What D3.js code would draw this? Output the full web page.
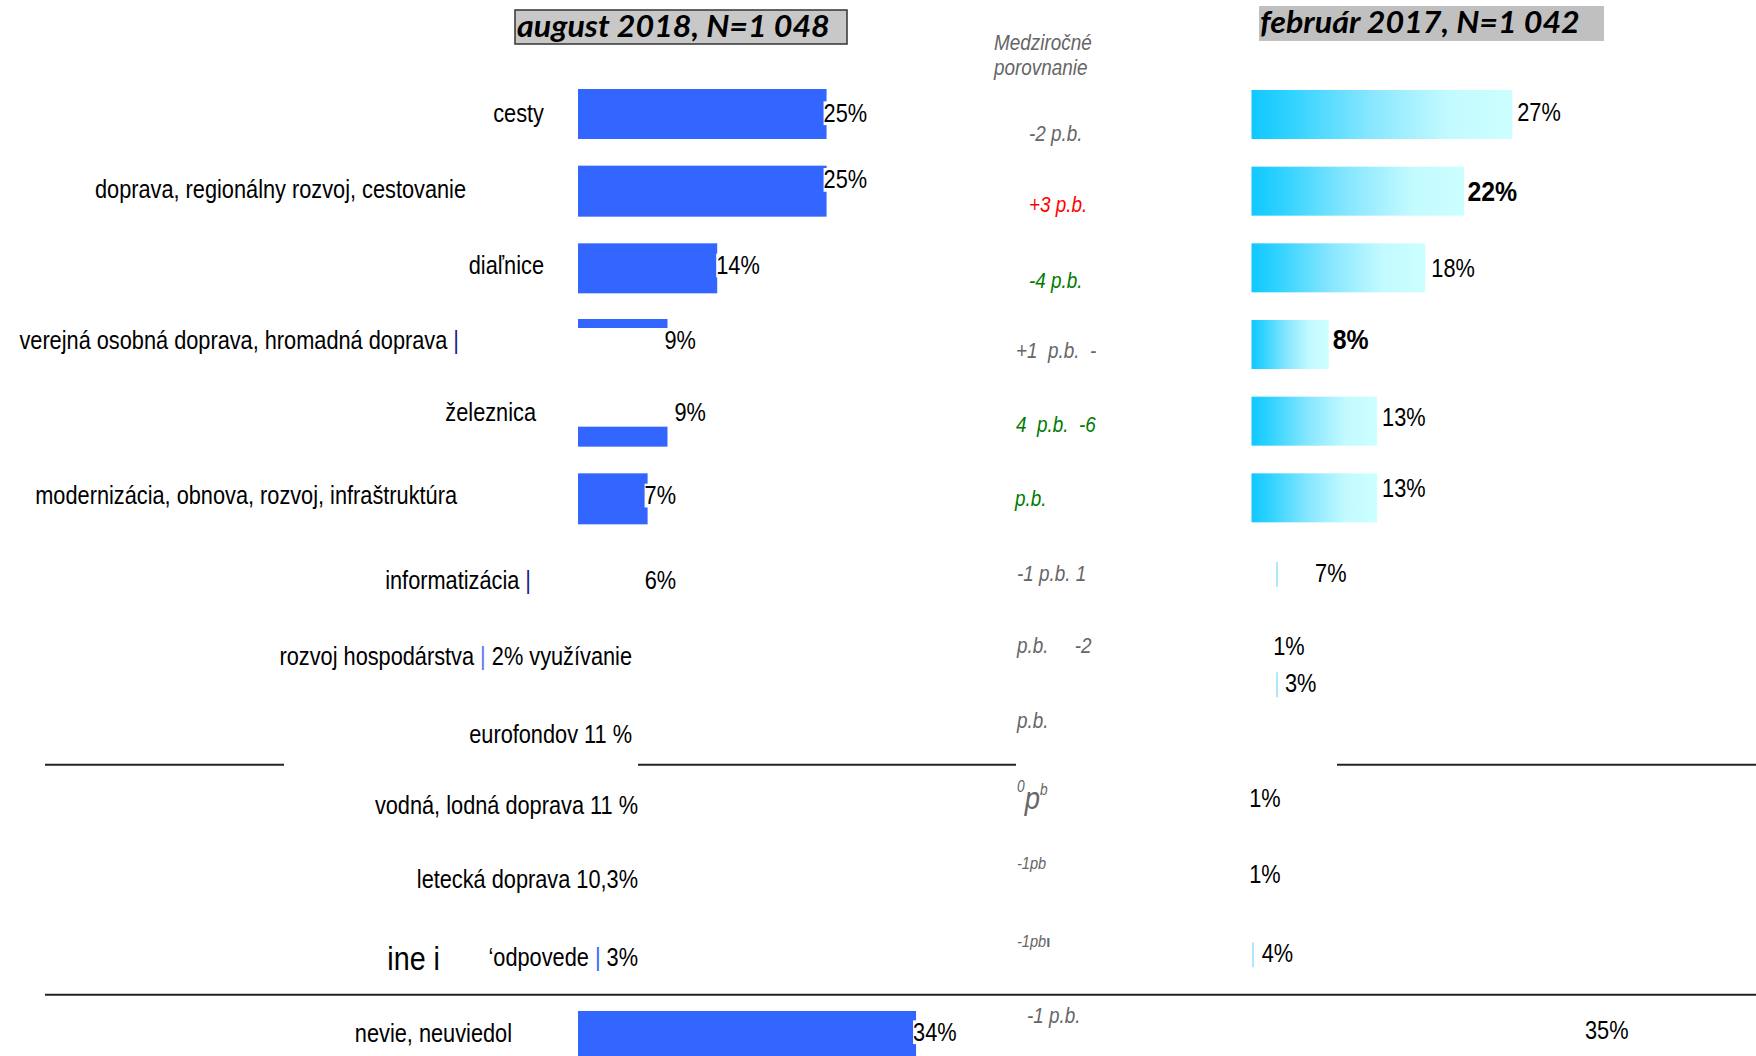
<!DOCTYPE html>
<html><head><meta charset="utf-8">
<script src="https://cdn.jsdelivr.net/npm/d3@7"></script>
<style>body{margin:0;background:#fff;overflow:hidden}</style>
</head><body>
<svg id="c" width="1756" height="1056"></svg>
<script>
// ---------- DATA ----------
const categories = ["cesty","doprava","dialnice","verejna","zeleznica","modernizacia","informatizacia","rozvoj","eurofondov","vodna","letecka","ine","nevie"];
const categoryLabels = [
  "cesty",
  "doprava, regionálny rozvoj, cestovanie",
  "diaľnice",
  "verejná osobná doprava, hromadná doprava |",
  "železnica",
  "modernizácia, obnova, rozvoj, infraštruktúra",
  "informatizácia |",
  "rozvoj hospodárstva | 2% využívanie",
  "eurofondov 11 %",
  "vodná, lodná doprava 11 %",
  "letecká doprava 10,3%",
  "‘odpovede | 3%",
  "nevie, neuviedol"
];
const augustValues   = [25, 25, 14, 9, 9, 7, 6, null, null, null, null, null, 34];
const februaryValues = [27, 22, 18, 8, 13, 13, 7, 1, 3, 1, 1, 4, 35];
const changeLabels = ["-2 p.b.", "+3 p.b.", "-4 p.b.", "+1  p.b.  -", "4  p.b.  -6", "p.b.", "-1 p.b. 1", "p.b.     -2", "p.b.", "0pb", "-1pb", "-1pb'", "-1 p.b."];
const changeKinds  = ["same", "up", "down", "same", "down", "down", "same", "same", "same", "same", "same", "same", "same"];
const titleAugust = "august 2018, N=1 048";
const titleFebruary = "február 2017, N=1 042";
const columnHeader = ["Medziročné", "porovnanie"];
const extraLabel = "ine i";

// ---------- LAYOUT ----------
const W = 1756, H = 1056;
const svg = d3.select("#c");
const FONT = "'Liberation Sans',Arial,sans-serif";
const NARROW = 0.87;
const TFONT = "Lato,'Open Sans',sans-serif";
const y = d3.scalePoint().domain(categories).range([113, 1033]);
const xL = d3.scaleLinear().domain([0, 35]).range([578, 926]);
const xR = d3.scaleLinear().domain([0, 35]).range([1251.5, 1589.5]);
const blue = "#3366ff";
const changeColor = {same: "#666666", up: "#ff0000", down: "#007a00"};

const labelAnchorX = [544, 466, 544, 459, 536, 457, 531, 632, 632, 638, 638, 638, 512];
const labelDy      = [0, 0, -1, -3, -7, -1, 7, 7, 8, 2, 0, 1, 0];
const leftBarShape = [[-24,50],[-24,51],[-23,50],[-24,9],[7,20],[-23,51],null,null,null,null,null,null,[-22,50]];
const leftValDy    = [0, -10, -1, -3, -7, -1, 7, 0, 0, 0, 0, 0, -1];
const leftValDx    = [-3, -3, -1, -3, 7, -3, 7, 0, 0, 0, 0, 0, -3];
const changeX  = [1029, 1029, 1029, 1016, 1016, 1015, 1017, 1017, 1017, 1017, 1017, 1017, 1027];
const changeDy = [20, 15, 14, 7, 5, 2, 0, -4, -6, -5, -12, -11, -18];
const rightMark = ["bar","bar","bar","bar","bar","bar","tick","none","tick","none","none","tick","none"];
const rightTickDx = [0,0,0,0,0,0,24.5,0,24.5,0,0,0.5,0];
const rightValDx = [5, 3.5, 6, 4, 5, 5, -4, 12, 4.5, -12, -12, -28.5, -4.5];
const rightValDy = [-1, 2, 2, -3, -2, -8, 0, -3, -43, -5, -5, -3, -3];
const rightBold  = [false, true, false, true, false, false, false, false, false, false, false, false, false];

// helper: horizontally condensed text anchored at (x,y)
function ntext(x, yy, sx) {
  return svg.append("g").attr("transform", `translate(${x},${yy}) scale(${sx},1)`);
}

// gradient
const defs = svg.append("defs");
const g = defs.append("linearGradient").attr("id", "cy").attr("x1", "0").attr("x2", "1").attr("y1", "0").attr("y2", "0");
[[0, "#10c8ff"], [0.15, "#30d2ff"], [0.45, "#86e6ff"], [0.75, "#c2faff"], [1, "#ccffff"]].forEach(s =>
  g.append("stop").attr("offset", s[0]).attr("stop-color", s[1]));

// titles
svg.append("rect").attr("x", 515).attr("y", 10).attr("width", 332).attr("height", 34)
  .attr("fill", "#c8c8c8").attr("stroke", "#333").attr("stroke-width", 1.5);
ntext(517, 37, 1.04).append("text").text(titleAugust)
  .attr("font-family", TFONT).attr("font-style", "italic").attr("font-weight", "bold").attr("font-size", 31).attr("fill", "#000");
svg.append("rect").attr("x", 1259).attr("y", 6).attr("width", 345).attr("height", 35).attr("fill", "#c0c0c0");
ntext(1260, 33, 1.04).append("text").text(titleFebruary)
  .attr("font-family", TFONT).attr("font-style", "italic").attr("font-weight", "bold").attr("font-size", 31).attr("fill", "#000");

// column header
columnHeader.forEach((t, i) => ntext(994, 50 + i * 25, 0.86).append("text").text(t)
  .attr("font-family", FONT).attr("font-style", "italic").attr("font-size", 22).attr("fill", "#666"));

// separators
const sep1 = (y("eurofondov") + y("vodna")) / 2;
const sep2 = (y("ine") + y("nevie")) / 2;
[[45, 284], [638, 1016], [1337, W]].forEach(s => svg.append("line").attr("x1", s[0]).attr("x2", s[1])
  .attr("y1", sep1).attr("y2", sep1).attr("stroke", "#222").attr("stroke-width", 2));
svg.append("line").attr("x1", 45).attr("x2", W).attr("y1", sep2).attr("y2", sep2).attr("stroke", "#222").attr("stroke-width", 2);

// left bars
categories.forEach((c, i) => {
  const v = augustValues[i], sh = leftBarShape[i];
  if (v == null || !sh) return;
  svg.append("rect").attr("x", xL(0)).attr("y", y(c) + sh[0]).attr("width", xL(v) - xL(0)).attr("height", sh[1]).attr("fill", blue);
});
// left value labels
categories.forEach((c, i) => {
  const v = augustValues[i]; if (v == null) return;
  const gg = ntext(xL(v) + leftValDx[i], y(c) + leftValDy[i], NARROW);
  const t = gg.append("text").attr("dy", "0.35em")
    .text(v + "%").attr("font-family", FONT).attr("font-size", 25).attr("fill", "#000");
  const b = t.node().getBBox();
  gg.insert("rect", "text").attr("x", b.x).attr("y", b.y + 2).attr("width", b.width).attr("height", b.height - 4).attr("fill", "#fff");
});

// category labels
const pipeColor = {3: "#1a1a8c", 6: "#1a1a8c", 7: "#5577ee", 11: "#3366ff"};
categories.forEach((c, i) => {
  const t = ntext(labelAnchorX[i], y(c) + labelDy[i], NARROW).append("text").attr("dy", "0.35em")
    .attr("text-anchor", "end").attr("font-family", FONT).attr("font-size", 25).attr("fill", "#000");
  const parts = categoryLabels[i].split("|");
  parts.forEach((p, k) => {
    t.append("tspan").text(p);
    if (k < parts.length - 1) t.append("tspan").text("|").attr("fill", pipeColor[i] || "#000");
  });
});
ntext(440, y("ine") + 2, NARROW).append("text").attr("dy", "0.35em").attr("text-anchor", "end")
  .attr("font-family", FONT).attr("font-size", 33).attr("fill", "#000").text(extraLabel);

// change column
categories.forEach((c, i) => {
  const t = ntext(changeX[i], y(c) + changeDy[i], 0.86).append("text").attr("dy", "0.35em")
    .attr("font-family", FONT).attr("font-style", "italic").attr("fill", changeColor[changeKinds[i]]).attr("font-size", 22)
    .attr("xml:space", "preserve");
  const s = changeLabels[i];
  if (s === "0pb") {
    t.append("tspan").text("0").attr("font-size", 16).attr("dy", "-0.4em");
    t.append("tspan").text("p").attr("font-size", 32).attr("dy", "0.55em");
    t.append("tspan").text("b").attr("font-size", 16).attr("dy", "-0.9em");
  } else if (s.startsWith("-1pb")) {
    t.attr("font-size", 17).attr("dy", "0.1em").text(s.replace("'", ""));
    if (s.endsWith("'")) t.append("tspan").text("ı").attr("font-weight", "bold").attr("font-style", "normal");
  } else {
    t.text(s);
  }
});

// right marks
categories.forEach((c, i) => {
  const v = februaryValues[i];
  const ly = y(c) + rightValDy[i];
  if (rightMark[i] === "bar") {
    svg.append("rect").attr("x", xR(0)).attr("y", y(c) - 23).attr("width", xR(v) - xR(0)).attr("height", 49).attr("fill", "url(#cy)");
  } else if (rightMark[i] === "tick") {
    svg.append("rect").attr("x", xR(0) + rightTickDx[i]).attr("y", ly - 11).attr("width", 2).attr("height", 25).attr("fill", "#aee8ff");
  }
  ntext(xR(v) + rightValDx[i], ly, rightBold[i] ? 0.92 : NARROW).append("text").attr("dy", "0.35em").text(v + "%")
    .attr("font-family", FONT).attr("font-size", rightBold[i] ? 27 : 25).attr("font-weight", rightBold[i] ? "bold" : "normal").attr("fill", "#000");
});
</script>
</body></html>
